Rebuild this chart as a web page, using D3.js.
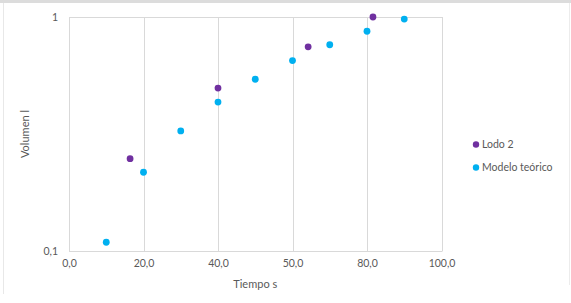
<!DOCTYPE html>
<html><head><meta charset="utf-8">
<script src="https://cdn.jsdelivr.net/npm/d3@7/dist/d3.min.js"></script>
<style>body{margin:0;background:#fff;} svg{display:block;}</style>
</head><body>
<script>
const xTickValues = [0, 20, 40, 60, 80, 100];
const xTickLabels = ["0,0", "20,0", "40,0", "50,0", "80,0", "100,0"];
const yTickValues = [0.1, 1];
const yTickLabels = ["0,1", "1"];
const seriesNames = ["Lodo 2", "Modelo teórico"];
const seriesColors = ["#7030A0", "#00B0F0"];
const lodoX = [16.4, 40, 64.2, 81.6];
const lodoY = [0.248, 0.497, 0.746, 1.0];
const modeloX = [10, 20, 30, 40, 50, 60, 70, 80, 90];
const modeloY = [0.109, 0.217, 0.326, 0.433, 0.542, 0.651, 0.761, 0.869, 0.98];

const W = 571, H = 303;
const m = {left: 69, right: 130, top: 17, bottom: 52};
const svg = d3.select("body").append("svg").attr("width", W).attr("height", H);
const font = "Lato, 'Open Sans', sans-serif";
const txt = "#595959";

// outer frame
svg.append("rect").attr("x", 0).attr("y", 0).attr("width", W).attr("height", 3).attr("fill", "#dcdcdc");
svg.append("line").attr("x1", 3.5).attr("x2", 3.5).attr("y1", 3).attr("y2", 294).attr("stroke", "#e8e8e8");
svg.append("line").attr("x1", 569.5).attr("x2", 569.5).attr("y1", 3).attr("y2", 285).attr("stroke", "#ececec");

const x = d3.scaleLinear().domain([0, 100]).range([m.left, W - m.right + 0.5]);
const y = d3.scaleLog().domain([0.1, 1]).range([H - m.bottom, m.top]);

const g = svg.append("g");
// vertical gridlines
g.selectAll("line.grid").data(xTickValues.slice(1)).enter().append("line")
  .attr("x1", d => Math.round(x(d)) + 0.5).attr("x2", d => Math.round(x(d)) + 0.5)
  .attr("y1", y(1)).attr("y2", y(0.1)).attr("stroke", "#d9d9d9").attr("stroke-width", 1);
// top & bottom & left lines
g.append("line").attr("x1", x(0)).attr("x2", Math.round(x(100)) + 0.5).attr("y1", Math.round(y(1)) + 0.5).attr("y2", Math.round(y(1)) + 0.5).attr("stroke", "#d9d9d9");
g.append("line").attr("x1", x(0)).attr("x2", Math.round(x(100)) + 0.5).attr("y1", Math.round(y(0.1)) + 0.5).attr("y2", Math.round(y(0.1)) + 0.5).attr("stroke", "#d9d9d9");
g.append("line").attr("x1", Math.round(x(0)) + 0.5).attr("x2", Math.round(x(0)) + 0.5).attr("y1", y(1)).attr("y2", y(0.1)).attr("stroke", "#d9d9d9");

// x axis labels
const xAxis = d3.axisBottom(x).tickValues(xTickValues).tickSize(0).tickPadding(9)
  .tickFormat((d, i) => xTickLabels[i]);
const xa = svg.append("g").attr("transform", `translate(0,${y(0.1)})`).call(xAxis);
xa.select(".domain").remove();
xa.selectAll("text").attr("fill", txt).style("font-family", font).style("font-size", "10.5px");

const yAxis = d3.axisLeft(y).tickValues(yTickValues).tickSize(0).tickPadding(11)
  .tickFormat((d, i) => yTickLabels[i]);
const ya = svg.append("g").attr("transform", `translate(${x(0)},0)`).call(yAxis);
ya.select(".domain").remove();
ya.selectAll("text").attr("fill", txt).style("font-family", font).style("font-size", "10.5px");

// axis titles
svg.append("text").attr("x", (x(0) + x(100)) / 2).attr("y", 288).attr("text-anchor", "middle")
  .attr("fill", txt).style("font-family", font).style("font-size", "11px").text("Tiempo s");
svg.append("text").attr("transform", `translate(29,${(y(1) + y(0.1)) / 2}) rotate(-90)`).attr("text-anchor", "middle")
  .attr("fill", txt).style("font-family", font).style("font-size", "11px").text("Volumen l");

// points
const series = [
  {name: seriesNames[0], color: seriesColors[0], pts: lodoX.map((v, i) => [v, lodoY[i]])},
  {name: seriesNames[1], color: seriesColors[1], pts: modeloX.map((v, i) => [v, modeloY[i]])}
];
series.slice().reverse().forEach(s => {
  svg.append("g").selectAll("circle").data(s.pts).enter().append("circle")
    .attr("cx", d => x(d[0])).attr("cy", d => y(d[1])).attr("r", 3.4).attr("fill", s.color);
});

// legend
const lg = svg.append("g");
series.forEach((s, i) => {
  const yy = 144.5 + i * 23;
  lg.append("circle").attr("cx", 476).attr("cy", yy).attr("r", 3.2).attr("fill", s.color);
  lg.append("text").attr("x", 482).attr("y", yy + 3.8).attr("fill", txt)
    .style("font-family", font).style("font-size", "10.5px").text(s.name);
});
</script>
</body></html>
